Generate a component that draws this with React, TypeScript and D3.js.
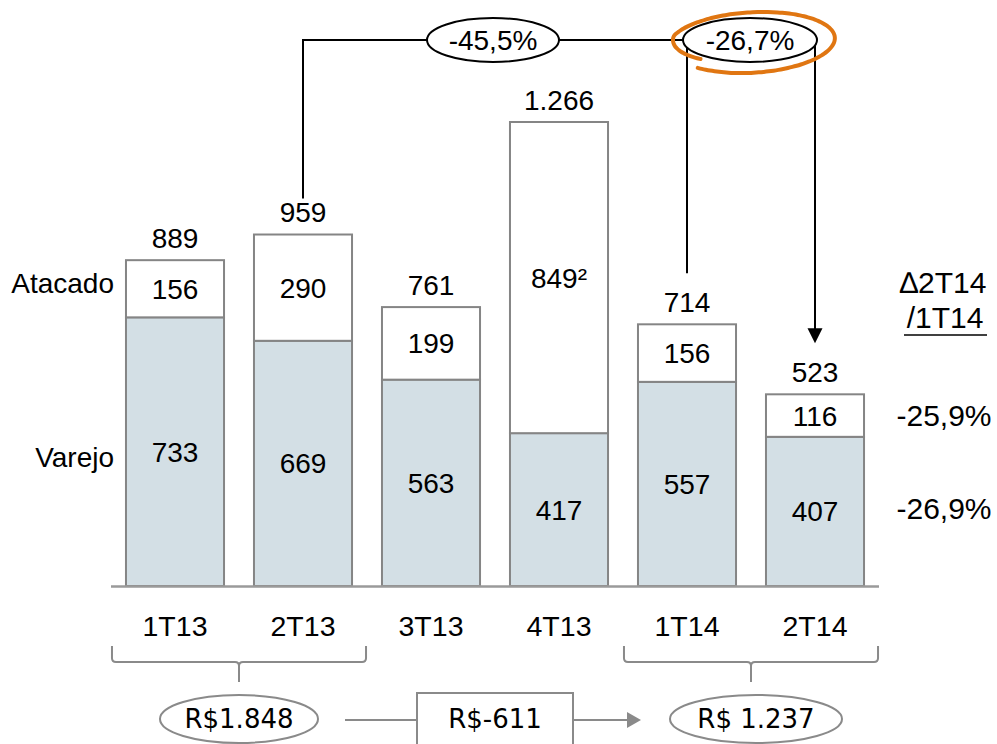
import React from "react";
import * as d3 from "d3";

// Quarterly results (R$ mn), split into retail (Varejo) and wholesale (Atacado)
const categories = ["1T13", "2T13", "3T13", "4T13", "1T14", "2T14"];
const varejo = [733, 669, 563, 417, 557, 407];
const atacado = [156, 290, 199, 849, 156, 116];
const atacadoMarks = ["", "", "", "²", "", ""];
const totals = [889, 959, 761, 1266, 714, 523];

// Change of 2T14 against 1T14 by segment (Atacado, Varejo)
const segmentDeltas = ["-25,9%", "-26,9%"];
// Quarter-over-quarter annotations on the totals
const totalDeltas = [
  { from: "2T13", to: "2T14", label: "-45,5%" },
  { from: "1T14", to: "2T14", label: "-26,7%" },
];
// Semester groups at the bottom
const firstHalf2013 = ["1T13", "2T13"];
const firstHalf2014 = ["1T14", "2T14"];

const W = 997;
const H = 744;
const FONT = "'Liberation Sans', Arial, sans-serif";
const FONT_B = "'DejaVu Sans', Tahoma, sans-serif";
const FILL = "#d3dfe5";
const EDGE = "#858585";
const GREY = "#8a8a8a";
const ORANGE = "#e07612";

const ptBR = d3.formatLocale({
  decimal: ",",
  thousands: ".",
  grouping: [3],
  currency: ["R$", ""],
  minus: "-",
});
const fmt = ptBR.format(",d");

export default function App() {
  const x = d3
    .scaleBand<string>()
    .domain(categories)
    .range([111, 879])
    .paddingInner(0.234)
    .paddingOuter(0.117);
  const y = d3.scaleLinear().domain([0, 1266]).range([586, 122]);
  const bw = x.bandwidth();
  const cx = (c: string) => (x(c) as number) + bw / 2;
  const idx = (c: string) => categories.indexOf(c);

  // annotation row
  const topY = 40;
  const ell1 = { cx: 493, rx: 66, ry: 22 };
  const ell2 = { cx: 750, rx: 67, ry: 22 };
  const d0 = totalDeltas[0];
  const d1 = totalDeltas[1];
  const leftLineEnd = y(totals[idx(d0.from)]) - 36;
  const midLineEnd = y(totals[idx(d1.from)]) - 51;
  const arrowTip = y(totals[idx(d1.to)]) - 51;

  // hand-drawn highlight loop around the second delta
  const loop = d3.range(0, 1.0001, 0.01).map((u) => {
    const t = ((142 + u * 350) * Math.PI) / 180;
    const k = Math.min(1, 0.8 + u * 1.2);
    const rx = 83 * k;
    const ry = 29 * k + u * 2;
    const rot = (-3 * Math.PI) / 180;
    const px = rx * Math.cos(t);
    const py = ry * Math.sin(t);
    return [
      752 + px * Math.cos(rot) - py * Math.sin(rot),
      42 + px * Math.sin(rot) + py * Math.cos(rot),
    ] as [number, number];
  });
  const loopPath = d3.line().curve(d3.curveBasis)(loop) as string;

  // semester brackets
  const bracket = (group: string[]) => {
    const l = (x(group[0]) as number) - 14;
    const r = (x(group[group.length - 1]) as number) + bw + 14;
    const m = (l + r) / 2;
    const t = 646;
    const b = 662;
    const rr = 4;
    return {
      m,
      path: `M${l},${t} V${b - rr} Q${l},${b} ${l + rr},${b} H${m - rr} Q${m},${b} ${m},${b + rr} V682 M${m},${b + rr} Q${m},${b} ${m + rr},${b} H${r - rr} Q${r},${b} ${r},${b - rr} V${t}`,
    };
  };
  const br1 = bracket(firstHalf2013);
  const br2 = bracket(firstHalf2014);
  const sum1 = d3.sum(firstHalf2013.map((c) => totals[idx(c)]));
  const sum2 = d3.sum(firstHalf2014.map((c) => totals[idx(c)]));
  const boxCx = (cx("3T13") + cx("4T13")) / 2;
  const boxW = 156;
  const rowY = 719;

  const last = categories.length - 1;
  const lastAtaMid = (y(totals[last]) + y(varejo[last])) / 2;
  const lastVarMid = (y(varejo[last]) + y(0)) / 2;

  return (
    <svg
      width={W}
      height={H}
      style={{ position: "absolute", left: 0, top: 0, background: "#fff" }}
      fontFamily={FONT}
    >
      {/* bars */}
      {categories.map((c, i) => (
        <g key={c}>
          <rect
            x={x(c)}
            y={y(varejo[i])}
            width={bw}
            height={y(0) - y(varejo[i])}
            fill={FILL}
            stroke={EDGE}
            strokeWidth={2}
          />
          <rect
            x={x(c)}
            y={y(totals[i])}
            width={bw}
            height={y(varejo[i]) - y(totals[i])}
            fill="#fff"
            stroke={EDGE}
            strokeWidth={2}
          />
          <text
            x={cx(c)}
            y={y(totals[i]) - 12.5}
            textAnchor="middle"
            fontSize={28}
          >
            {fmt(totals[i])}
          </text>
          <text
            x={cx(c)}
            y={(y(totals[i]) + y(varejo[i])) / 2}
            dy="0.36em"
            textAnchor="middle"
            fontSize={28}
          >
            {atacado[i] + atacadoMarks[i]}
          </text>
          <text
            x={cx(c)}
            y={(y(varejo[i]) + y(0)) / 2}
            dy="0.36em"
            textAnchor="middle"
            fontSize={28}
          >
            {varejo[i]}
          </text>
          <text x={cx(c)} y={636} textAnchor="middle" fontSize={28.5}>
            {c}
          </text>
        </g>
      ))}
      <line x1={111} x2={879} y1={586.5} y2={586.5} stroke="#9a9a9a" strokeWidth={2.5} />

      {/* series names */}
      <text x={114} y={293} textAnchor="end" fontSize={28}>
        Atacado
      </text>
      <text x={114} y={467} textAnchor="end" fontSize={28}>
        Varejo
      </text>

      {/* segment change column */}
      <text x={943} y={293} textAnchor="middle" fontSize={30}>
        ∆2T14
      </text>
      <text x={945} y={328} textAnchor="middle" fontSize={30}>
        /1T14
      </text>
      <line x1={904} x2={987} y1={335} y2={335} stroke="#000" strokeWidth={1.5} />
      <text x={944} y={lastAtaMid} dy="0.36em" textAnchor="middle" fontSize={30}>
        {segmentDeltas[0]}
      </text>
      <text x={944} y={lastVarMid - 3} dy="0.36em" textAnchor="middle" fontSize={30}>
        {segmentDeltas[1]}
      </text>

      {/* delta annotations on totals */}
      <path
        d={`M${cx(d0.from)},${leftLineEnd} V${topY} H${ell2.cx}`}
        fill="none"
        stroke="#000"
        strokeWidth={2}
      />
      <line x1={cx(d1.from)} x2={cx(d1.from)} y1={topY} y2={midLineEnd} stroke="#000" strokeWidth={2} />
      <line x1={cx(d1.to)} x2={cx(d1.to)} y1={topY} y2={arrowTip - 14} stroke="#000" strokeWidth={2} />
      <path
        d={`M${cx(d1.to) - 7.5},${arrowTip - 15} L${cx(d1.to) + 7.5},${arrowTip - 15} L${cx(d1.to)},${arrowTip} Z`}
        fill="#000"
      />
      <ellipse cx={ell1.cx} cy={topY} rx={ell1.rx} ry={ell1.ry} fill="#fff" stroke="#000" strokeWidth={2} />
      <text x={ell1.cx} y={topY} dy="0.36em" textAnchor="middle" fontSize={28}>
        {d0.label}
      </text>
      <ellipse cx={ell2.cx} cy={topY} rx={ell2.rx} ry={ell2.ry} fill="#fff" stroke="#000" strokeWidth={2} />
      <text x={ell2.cx} y={topY} dy="0.36em" textAnchor="middle" fontSize={28}>
        {d1.label}
      </text>
      <path d={loopPath} fill="none" stroke={ORANGE} strokeWidth={4} strokeLinecap="round" />

      {/* semester totals */}
      <path d={br1.path} fill="none" stroke={GREY} strokeWidth={2} />
      <path d={br2.path} fill="none" stroke={GREY} strokeWidth={2} />
      <line x1={br1.m + 106} x2={boxCx - boxW / 2} y1={rowY + 1} y2={rowY + 1} stroke={GREY} strokeWidth={2} />
      <line x1={boxCx + boxW / 2} x2={br2.m - 124} y1={rowY + 1} y2={rowY + 1} stroke={GREY} strokeWidth={2} />
      <path
        d={`M${br2.m - 124},${rowY - 7} L${br2.m - 110},${rowY + 1} L${br2.m - 124},${rowY + 9} Z`}
        fill={GREY}
      />
      <ellipse cx={br1.m} cy={rowY} rx={79} ry={24} fill="#fff" stroke={GREY} strokeWidth={2} />
      <text x={br1.m} y={rowY} dy="0.36em" textAnchor="middle" fontSize={26} fontFamily={FONT_B}>
        {"R$" + fmt(sum1)}
      </text>
      <rect x={boxCx - boxW / 2} y={693} width={boxW} height={60} fill="#fff" stroke={GREY} strokeWidth={2} />
      <text x={boxCx} y={rowY} dy="0.36em" textAnchor="middle" fontSize={26} fontFamily={FONT_B}>
        {"R$" + fmt(sum2 - sum1)}
      </text>
      <ellipse cx={br2.m + 5} cy={rowY} rx={86} ry={24} fill="#fff" stroke={GREY} strokeWidth={2} />
      <text x={br2.m + 5} y={rowY} dy="0.36em" textAnchor="middle" fontSize={26} fontFamily={FONT_B}>
        {"R$ " + fmt(sum2)}
      </text>
    </svg>
  );
}
